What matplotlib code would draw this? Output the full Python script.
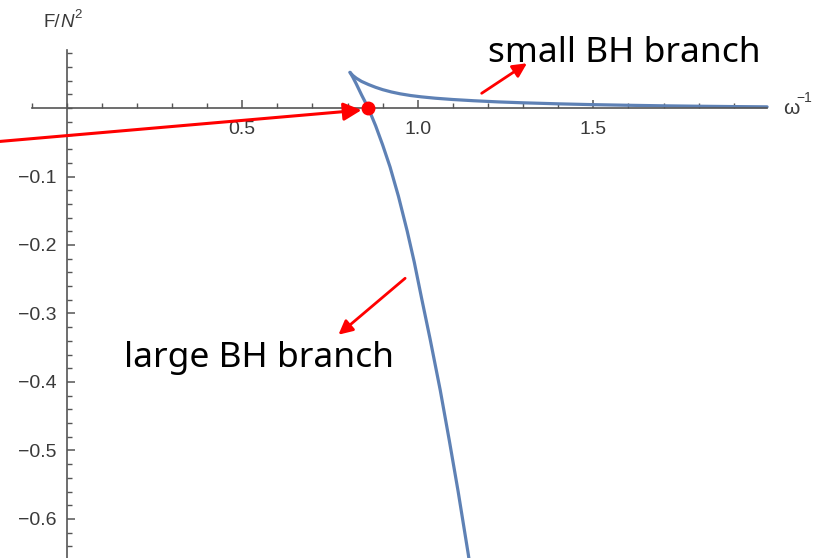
import numpy as np
import matplotlib
matplotlib.use("Agg")
import matplotlib.pyplot as plt
from matplotlib.ticker import FixedLocator

plt.rcParams['font.family'] = ['Liberation Sans', 'DejaVu Sans']

# free energy vs inverse omega, two branches meeting at the cusp
small_x = [0.807, 0.815, 0.825, 0.840, 0.860, 0.880, 0.900, 0.925, 0.950,
           0.980, 1.010, 1.050, 1.100, 1.160, 1.230, 1.300, 1.400, 1.500,
           1.600, 1.700, 1.800, 1.900, 1.995]
small_F = [0.052, 0.0475, 0.0435, 0.0388, 0.0342, 0.0302, 0.0268, 0.0234, 0.0207,
           0.0182, 0.0163, 0.0143, 0.0124, 0.0106, 0.0089, 0.0076, 0.0061, 0.0049,
           0.0040, 0.0032, 0.0026, 0.0021, 0.0017]

large_x = [0.807, 0.815, 0.825, 0.840, 0.859, 0.880, 0.900, 0.921, 0.945,
           0.970, 0.990, 1.011, 1.035, 1.064, 1.090, 1.115, 1.144, 1.155]
large_F = [0.052, 0.045, 0.035, 0.019, 0.0, -0.026, -0.054, -0.086, -0.129,
           -0.180, -0.225, -0.278, -0.337, -0.412, -0.486, -0.560, -0.652, -0.690]

# Hawking-Page point where the large branch crosses F = 0
hp_x, hp_F = 0.859, 0.0

x_major = [0.5, 1.0, 1.5]
y_major = [-0.6, -0.5, -0.4, -0.3, -0.2, -0.1]
x_minor = np.round(np.arange(-0.1, 1.95, 0.1), 2)
y_minor = np.round(np.arange(-0.7, 0.09, 0.02), 2)

line_color = '#5E81B5'
axis_color = '#555555'
label_color = '#3a3a3a'

fig = plt.figure(figsize=(8.18, 5.58), dpi=100)
ax = fig.add_axes([0, 0, 1, 1])
ax.set_xlim(-0.190, 2.140)
ax.set_ylim(-0.657, 0.1577)

ax.plot(small_x, small_F, color=line_color, lw=2.3, solid_capstyle='round')
ax.plot(large_x, large_F, color=line_color, lw=2.3, solid_capstyle='round')

# axes through the origin, Mathematica style
for s in ['top', 'right']:
    ax.spines[s].set_visible(False)
ax.spines['left'].set_position(('data', 0))
ax.spines['bottom'].set_position(('data', 0))
ax.spines['bottom'].set_bounds(-0.1, 1.995)
ax.spines['left'].set_bounds(-0.7, 0.085)
for s in ['left', 'bottom']:
    ax.spines[s].set_color(axis_color)
    ax.spines[s].set_linewidth(1.2)

ax.xaxis.set_major_locator(FixedLocator(x_major))
ax.xaxis.set_minor_locator(FixedLocator(x_minor))
ax.yaxis.set_major_locator(FixedLocator(y_major))
ax.yaxis.set_minor_locator(FixedLocator(y_minor))
ax.set_xticklabels([f'{v:.1f}' for v in x_major])
ax.set_yticklabels([f'\u2212{abs(v):.1f}' for v in y_major])

ax.tick_params(axis='both', which='major', direction='in', length=6, width=1.1,
               color=axis_color, labelsize=14, labelcolor=label_color)
ax.tick_params(axis='both', which='minor', direction='in', length=3.5, width=1.0,
               color=axis_color)
ax.tick_params(axis='x', which='major', pad=9)
ax.tick_params(axis='y', which='major', pad=7)

# axis labels, built from plain text pieces
ax.text(-0.065, 0.118, 'F/', fontsize=13.5, color=label_color)
ax.annotate('N', xy=(-0.065, 0.118), xytext=(11.7, 0), textcoords='offset points',
            fontsize=13.5, color=label_color, style='italic')
ax.annotate('2', xy=(-0.065, 0.118), xytext=(22, 6.5), textcoords='offset points',
            fontsize=9.5, color=label_color)
ax.text(2.040, 0.0, '\u03c9', fontsize=15, color=label_color, va='center')
ax.annotate('\u22121', xy=(2.040, 0.0), xytext=(10, 4), textcoords='offset points',
            fontsize=10, color=label_color)

# annotations
ax.plot(hp_x, hp_F, 'o', color='red', ms=9, zorder=5)
ax.annotate('', xy=(0.840, -0.003), xytext=(-0.195, -0.049),
            arrowprops=dict(arrowstyle='-|>', color='red', lw=2.2,
                            mutation_scale=27, shrinkA=0, shrinkB=0))
ax.annotate('', xy=(1.311, 0.0653), xytext=(1.182, 0.0215),
            arrowprops=dict(arrowstyle='-|>', color='red', lw=2.0,
                            mutation_scale=21, shrinkA=0, shrinkB=0))
ax.annotate('', xy=(0.774, -0.331), xytext=(0.964, -0.2486),
            arrowprops=dict(arrowstyle='-|>', color='red', lw=2.0,
                            mutation_scale=21, shrinkA=0, shrinkB=0))

ax.text(1.20, 0.067, 'small BH branch', fontsize=25.5, family=['Noto Sans', 'DejaVu Sans'],
        color='black')
ax.text(0.163, -0.378, 'large BH branch', fontsize=25.5, family=['Noto Sans', 'DejaVu Sans'],
        color='black')

fig.savefig('out.png', dpi=100)
